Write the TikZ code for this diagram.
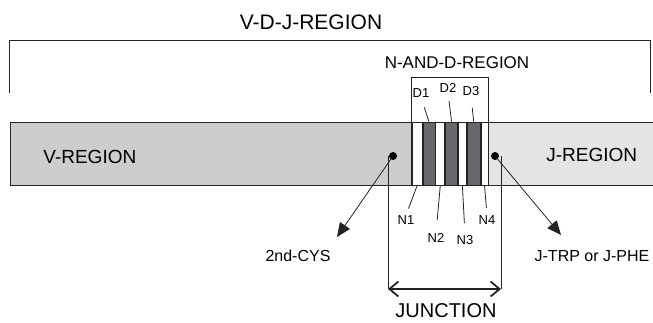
\documentclass[tikz,border=0pt]{standalone}
\usepackage{fontspec}
\setmainfont{Liberation Sans}
\usetikzlibrary{arrows.meta}

\definecolor{vgray}{RGB}{205,205,207}
\definecolor{jgray}{RGB}{228,228,230}
\definecolor{dgray}{RGB}{103,104,108}
\definecolor{ink}{RGB}{35,35,35}
\newcommand\fsz[1]{\fontsize{#1}{#1}\selectfont}

\tikzset{
  seg/.style={draw=ink, inner sep=0pt, minimum height=63pt, anchor=west},
  tag/.style={inner sep=0pt, font=\fsz{13}},
  dot/.style={circle, fill=black, inner sep=0pt, minimum size=8pt},
  tri/.style={ink, -{Triangle[length=14pt,width=12pt]}},
  junc/.style={ink, line width=1.8pt, {Straight Barb[length=9pt,width=15pt]}-{Straight Barb[length=9pt,width=15pt]}}
}

\begin{document}
\begin{tikzpicture}[x=1pt, y=-1pt, line width=0.8pt]
            \useasboundingbox (0,0) rectangle (653,322);

            % the chain of segments
            \node[seg, fill=vgray, minimum width=401pt] (vreg) at (10,153.5) {};
            \node[seg, fill=white, minimum width=10pt] (n1seg) at (vreg.east) {};
            \node[seg, fill=dgray, minimum width=12pt] (d1bar) at (n1seg.east) {};
            \node[seg, fill=white, minimum width=9pt] (n2seg) at (d1bar.east) {};
            \node[seg, fill=dgray, minimum width=12pt] (d2bar) at (n2seg.east) {};
            \node[seg, fill=white, minimum width=8pt] (n3seg) at (d2bar.east) {};
            \node[seg, fill=dgray, minimum width=13pt] (d3bar) at (n3seg.east) {};
            \node[seg, fill=white, minimum width=7pt] (n4seg) at (d3bar.east) {};
            \node[seg, fill=jgray, minimum width=170pt] (jreg) at (n4seg.east) {};

            \node[anchor=west, inner sep=0pt, font=\fsz{19}] (vlab) at (43,157) {V-REGION};
            \node[anchor=west, inner sep=0pt, font=\fsz{19}] (jlab) at (546,155) {J-REGION};

            % brackets
            \node[inner sep=0pt, font=\fsz{21}] (vdjlab) at (311,22) {V-D-J-REGION};
            \draw[ink] (9,93) -- (9,40) -- (650,40) -- (650,93);
            \node[inner sep=0pt, font=\fsz{17}] (ndlab) at (457,63) {N-AND-D-REGION};
            \draw[ink] (n1seg.north west) -- ++(0,-44) -| (n4seg.north east);

            % D and N labels
            \node[tag] (d1lab) at (421,93) {D1};
            \node[tag] (d2lab) at (448,88) {D2};
            \node[tag] (d3lab) at (471,91) {D3};
            \draw[ink, shorten <=10pt] (d1lab.south) -- (d1bar.north);
            \draw[ink, shorten <=8pt] (d2lab.south) -- (d2bar.north);
            \draw[ink, shorten <=12pt] (d3lab.south) -- (d3bar.north);

            \node[tag] (n1lab) at (406,220) {N1};
            \node[tag] (n2lab) at (436,238) {N2};
            \node[tag] (n3lab) at (465,240) {N3};
            \node[tag] (n4lab) at (487,220) {N4};
            \draw[ink, shorten >=7pt] (n1seg.south) -- (n1lab.north);
            \draw[ink, shorten >=13pt] (n2seg.south) -- (n2lab.north);
            \draw[ink, shorten >=12pt] (n3seg.south) -- (n3lab.north);
            \draw[ink, shorten >=7pt] (n4seg.south) -- (n4lab.north);

            % residues
            \node[dot] (vdot) at (393,156) {};
            \node[dot] (jdot) at (495,156) {};
            \coordinate (cystip) at (337,237);
            \coordinate (phetip) at (561,235);
            \draw[tri] (vdot.center) -- (cystip);
            \draw[tri] (jdot.center) -- (phetip);
            \node[inner sep=0pt, font=\fsz{16}] (cyslab) at (298,256) {2nd-CYS};
            \node[inner sep=0pt, font=\fsz{16}] (phelab) at (592,256) {J-TRP or J-PHE};

            % junction
            \coordinate (jl) at (388,289);
            \coordinate (jr) at (501,289);
            \draw[ink] (vdot.center -| jl) -- (jl);
            \draw[ink] (jdot.center -| jr) -- (jr);
            \draw[junc] (jl) -- (jr);
            \node[inner sep=0pt, font=\fsz{20}] (junclab) at (446,311) {JUNCTION};
\end{tikzpicture}
\end{document}
